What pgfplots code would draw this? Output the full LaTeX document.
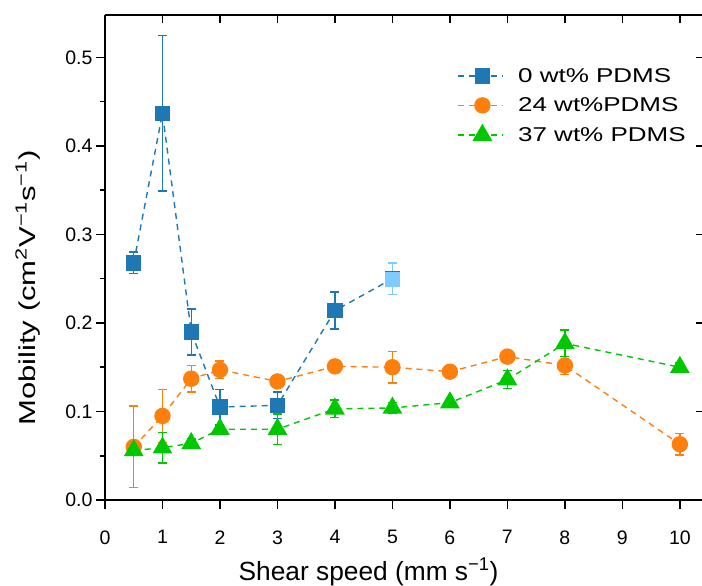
\documentclass[border=0pt]{standalone}
\usepackage{fontspec}
\setmainfont{Liberation Sans}
\newfontfamily\wideL[FakeStretch=1.3]{Liberation Sans}
\newfontfamily\wideY[FakeStretch=1.35]{Liberation Sans}
\usepackage{pgfplots}
\usepackage{pgfplotstable}
\pgfplotsset{compat=1.18}
\definecolor{cblue}{HTML}{1F77B4}
\definecolor{corange}{HTML}{FF7F0E}
\definecolor{cgreen}{HTML}{00C800}
\definecolor{clight}{HTML}{7FCBFF}

% shear speed, mobility, error
\pgfplotstableread{
x y e
0.5 0.268 0.012
1 0.437 0.088
1.5 0.190 0.026
2 0.105 0.020
3 0.107 0.015
4 0.214 0.021
5 0.250 0.018
}\pdmsA
\pgfplotstableread{
x y e
5 0.250 0.018
}\pdmsAlast
\pgfplotstableread{
x y e
0.5 0.060 0.046
1 0.095 0.030
1.5 0.137 0.015
2 0.147 0.010
3 0.134 0.002
4 0.151 0.002
5 0.150 0.018
6 0.145 0.002
7 0.162 0.002
8 0.152 0.010
10 0.063 0.012
}\pdmsB
\pgfplotstableread{
x y e
0.5 0.056 0.002
1 0.059 0.017
1.5 0.064 0.005
2 0.080 0.004
3 0.080 0.017
4 0.103 0.010
5 0.104 0.006
6 0.110 0.003
7 0.136 0.010
8 0.177 0.015
10 0.150 0.005
}\pdmsC

\begin{document}
\begin{tikzpicture}
\pgfplotsset{
  every axis/.append style={
    scale only axis, width=599pt, height=485pt,
    xmin=0, xmax=10.42, ymin=0, ymax=0.548,
    xtick={0,1,...,10},
    ytick={0,0.1,0.2,0.3,0.4,0.5},
    axis line style={line width=1.8pt, black},
    tick style={line width=1.5pt, black},
    major tick length=9pt, minor tick length=5pt,
  },
}
\begin{axis}[
  name=main,
  axis x line*=bottom, axis y line*=left,
  tick align=outside,
  minor ytick={0.05,0.15,0.25,0.35,0.45},
  /pgf/number format/assume math mode=true,
  ticklabel style={font=\fontsize{19.5}{21}\selectfont},
  xticklabel style={yshift=-18pt},
  yticklabel style={/pgf/number format/fixed, /pgf/number format/fixed zerofill, /pgf/number format/precision=1},
  xlabel={Shear speed (mm s\textsuperscript{−1})},
  ylabel={Mobility (cm\textsuperscript{2}V\textsuperscript{−1}s\textsuperscript{−1})},
  xlabel style={at={(axis description cs:0.44,0)}, anchor=base, yshift=-80pt, font=\fontsize{26.3}{28}\selectfont},
  ylabel style={at={(axis description cs:-0.1285,0.437)}, anchor=center, font=\fontsize{23}{26}\wideY},
  legend cell align=left,
  legend style={draw=none, fill=none, anchor=north west, at={(axis description cs:0.5835,0.899)},
    font=\fontsize{20}{22}\wideL, row sep=10pt,
    /tikz/every odd column/.append style={column sep=12pt}},
  legend image code/.code={
    \draw[mark repeat=2, mark phase=2, #1] plot coordinates {(0pt,0pt) (24pt,0pt) (45pt,0pt)};
  },
  error bars/error bar style={solid, line width=1.4pt},
  error bars/error mark options={rotate=90, mark size=4.5pt, line width=1.4pt, solid},
]
\addplot[cblue, line width=1.4pt, dash pattern=on 6pt off 5pt,
  mark=square*, mark size=7pt, mark options={solid, fill=cblue},
  error bars/.cd, y dir=both, y explicit]
  table[x=x, y=y, y error=e] {\pdmsA};
\addlegendentry{0 wt\% PDMS}
\addplot[corange, line width=1.4pt, dash pattern=on 6pt off 5pt,
  mark=*, mark size=7.5pt, mark options={solid, fill=corange},
  error bars/.cd, y dir=both, y explicit]
  table[x=x, y=y, y error=e] {\pdmsB};
\addlegendentry{24 wt\%PDMS}
\addplot[cgreen, line width=1.4pt, dash pattern=on 6pt off 5pt,
  mark=triangle*, mark size=10pt, mark options={solid, fill=cgreen},
  error bars/.cd, y dir=both, y explicit]
  table[x=x, y=y, y error=e] {\pdmsC};
\addlegendentry{37 wt\% PDMS}
\addplot[clight, only marks, forget plot,
  mark=square*, mark size=7pt, mark options={solid, fill=clight},
  error bars/.cd, y dir=both, y explicit]
  table[x=x, y=y, y error=e] {\pdmsAlast};
\end{axis}
\begin{axis}[
  at={(main.south west)}, anchor=south west,
  axis x line*=top, axis y line*=right,
  tick align=inside,
  xticklabels={}, yticklabels={},
  major tick length=8pt,
]
\addplot[draw=none, forget plot] coordinates {(0,0)};
\end{axis}
\pgfresetboundingbox
\path[use as bounding box] ([shift={(-105pt,-85pt)}]main.south west) rectangle ([shift={(-2pt,15pt)}]main.north east);
\end{tikzpicture}
\end{document}
